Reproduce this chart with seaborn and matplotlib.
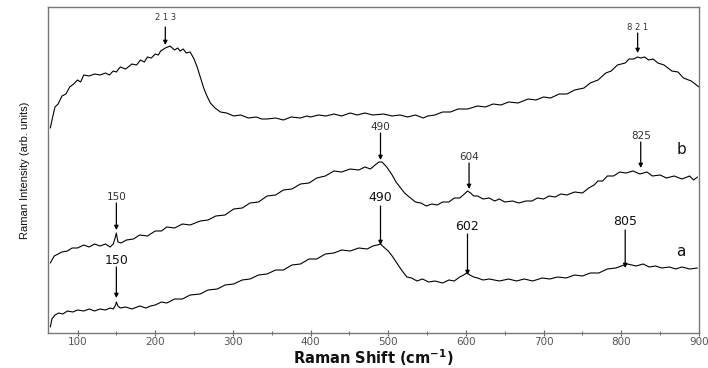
import matplotlib
matplotlib.use("Agg")
import matplotlib.pyplot as plt
import pandas as pd
import seaborn as sns
from matplotlib.ticker import MultipleLocator

# Raman spectra (offset stacked, arbitrary units)
shift_c = [65, 68, 71, 75, 80, 85, 90, 95, 100, 104, 108, 115, 122, 129, 136, 141, 146, 150,
           155, 162, 170, 176, 181, 186, 190, 195, 200, 204, 207, 213, 219, 225, 229, 232, 236,
           240, 245, 250, 254, 258, 262, 266, 271, 277, 284, 292, 301, 310, 320, 330, 337, 344,
           355, 365, 375, 387, 395, 400, 410, 420, 430, 440, 451, 460, 470, 480, 494, 505, 515,
           525, 535, 545, 551, 560, 570, 580, 590, 602, 615, 625, 635, 645, 655, 667, 680, 690,
           700, 709, 720, 730, 740, 752, 760, 770, 780, 787, 795, 805, 810, 816, 821, 825, 830,
           835, 841, 847, 855, 865, 873, 880, 890, 900]
int_c = [205, 216, 226, 229, 237, 239, 246, 249, 253, 251, 258, 257, 259, 258, 260, 258, 262, 261,
         266, 264, 269, 268, 273, 271, 276, 275, 279, 278, 282, 285, 287, 283, 285, 282, 284,
         280, 281, 274, 266, 256, 246, 238, 230, 225, 221, 220, 217, 218, 215, 216, 214, 214,
         215, 213, 216, 215, 217, 216, 218, 217, 219, 217, 220, 218, 220, 218, 219, 217, 218,
         216, 218, 215, 217, 218, 221, 221, 224, 224, 227, 226, 229, 228, 231, 230, 234, 233,
         236, 235, 239, 239, 243, 245, 250, 253, 260, 262, 268, 270, 274, 274, 276, 275, 276,
         273, 274, 270, 268, 262, 261, 255, 252, 246]

shift_b = [65, 70, 75, 80, 87, 93, 100, 108, 115, 122, 129, 136, 142, 146, 148, 150, 152, 156,
           163, 172, 180, 190, 200, 208, 215, 225, 235, 245, 258, 268, 278, 290, 301, 312, 322,
           333, 344, 355, 365, 376, 387, 398, 408, 419, 430, 440, 451, 462, 470, 477, 483, 488,
           492, 498, 505, 510, 515, 521, 527, 535, 542, 549, 556, 563, 570, 578, 585, 592, 598,
           602, 606, 610, 615, 622, 630, 637, 643, 650, 660, 668, 677, 685, 692, 700, 707, 715,
           722, 730, 740, 750, 758, 765, 770, 776, 782, 790, 798, 806, 815, 824, 833, 840, 850,
           858, 868, 878, 888, 893, 898]
int_b = [70, 77, 79, 81, 82, 85, 85, 88, 86, 89, 87, 89, 86, 89, 94, 100, 91, 90,
         93, 94, 98, 97, 102, 102, 106, 105, 109, 108, 112, 113, 117, 118, 124, 125, 130,
         131, 137, 138, 143, 144, 149, 150, 155, 157, 162, 161, 164, 163, 166, 164, 168, 171,
         171, 166, 158, 151, 146, 140, 136, 131, 130, 127, 129, 128, 131, 131, 135, 135, 139,
         142, 140, 137, 137, 134, 135, 132, 134, 131, 132, 130, 132, 132, 135, 134, 137, 136,
         139, 138, 141, 140, 145, 148, 152, 152, 157, 157, 161, 160, 162, 159, 161, 157, 158,
         155, 157, 154, 157, 153, 156]

shift_a = [65, 67, 71, 76, 81, 87, 94, 100, 108, 115, 122, 129, 136, 142, 146, 149, 150, 152,
           155, 162, 170, 180, 188, 194, 200, 208, 215, 225, 235, 245, 258, 268, 280, 290, 301,
           312, 322, 333, 344, 355, 365, 376, 387, 398, 408, 419, 430, 440, 451, 462, 473, 480,
           486, 490, 494, 500, 505, 511, 517, 524, 530, 537, 544, 552, 560, 570, 578, 585, 592,
           597, 601, 605, 610, 615, 622, 630, 643, 655, 665, 675, 686, 698, 708, 718, 729, 740,
           750, 760, 771, 782, 793, 800, 808, 819, 828, 836, 844, 852, 862, 870, 878, 888, 898]
int_a = [6, 14, 18, 20, 19, 22, 21, 23, 22, 24, 22, 24, 23, 25, 24, 28, 31, 27,
         25, 26, 24, 27, 25, 27, 28, 31, 30, 34, 34, 38, 39, 43, 44, 48, 49,
         53, 54, 58, 59, 63, 63, 68, 69, 74, 74, 79, 80, 83, 82, 85, 84, 87,
         88, 89, 86, 82, 77, 70, 63, 56, 55, 52, 54, 51, 52, 50, 53, 52, 56,
         58, 60, 58, 56, 55, 53, 54, 52, 54, 52, 54, 52, 55, 54, 56, 55, 58,
         57, 60, 60, 64, 65, 67, 69, 67, 69, 66, 67, 65, 66, 64, 66, 64, 65]

# Peak labels: (text, position, text height, arrow start, arrow tip, style)
peaks = [
    ("2 1 3", 213, 315, 306, 288, "c"),
    ("8 2 1", 821, 305, 300, 280, "c"),
    ("490", 490, 206, 200, 173, "b"),
    ("604", 604, 176, 170, 144, "b"),
    ("825", 825, 197, 191, 165, "b"),
    ("150", 150, 136, 130, 103, "b"),
    ("490", 490, 135, 127, 88, "a"),
    ("602", 602, 106, 99, 58, "a"),
    ("805", 805, 111, 103, 65, "a"),
    ("150", 150, 73, 66, 35, "a"),
]
curve_letters = [("b", 877, 183), ("a", 876, 82)]

frames = []
for name, xs, ys in (("a", shift_a, int_a), ("b", shift_b, int_b), ("c", shift_c, int_c)):
    frames.append(pd.DataFrame({"shift": xs, "intensity": ys, "sample": name}))
df = pd.concat(frames, ignore_index=True)

sns.set_theme(style="ticks")
plt.rcParams["font.family"] = ["DejaVu Sans"]

fig = plt.figure(figsize=(7.08, 3.68), dpi=100)
ax = fig.add_axes([48 / 708, 35 / 368, 651 / 708, 326 / 368])

sns.lineplot(data=df, x="shift", y="intensity", hue="sample", units="sample",
             estimator=None, sort=False, palette={"a": "black", "b": "black", "c": "black"},
             linewidth=0.8, legend=False, ax=ax)

ax.set_xlim(62, 900)
ax.set_ylim(0, 326)

label_style = {
    "c": dict(fontsize=6, color="#333333"),
    "b": dict(fontsize=7.5, color="#333333"),
    "a": dict(fontsize=9, color="#111111"),
}
for text, pos, ty, y0, y1, st in peaks:
    ax.text(pos, ty, text, ha="center", va="center", **label_style[st])
    ax.annotate("", xy=(pos, y1), xytext=(pos, y0),
                arrowprops=dict(arrowstyle="-|>", color="black", lw=0.9,
                                mutation_scale=6, shrinkA=0, shrinkB=0))
for letter, lx, ly in curve_letters:
    ax.text(lx, ly, letter, ha="center", va="center", fontsize=11, color="#111111")

ax.xaxis.set_major_locator(MultipleLocator(100))
ax.xaxis.set_minor_locator(MultipleLocator(50))
ax.tick_params(axis="x", which="major", direction="inout", length=4, width=0.8,
               colors="#666666", labelsize=7.5, labelcolor="#555555", pad=1)
ax.tick_params(axis="x", which="minor", direction="inout", length=3, width=0.7, colors="#666666")
ax.set_yticks([])

for side in ("left", "right", "top", "bottom"):
    ax.spines[side].set_visible(True)
    ax.spines[side].set_color("#777777")
    ax.spines[side].set_linewidth(1.0)

ax.set_xlabel("Raman Shift (cm$^{\\mathbf{-1}}$)", fontsize=10.5, fontweight="bold",
              color="#111111")
ax.xaxis.set_label_coords(0.5, -0.044)
ax.set_ylabel("Raman Intensity (arb. units)", fontsize=8,
              family=["Liberation Sans", "DejaVu Sans"], color="#111111", labelpad=13)

fig.savefig("out.png", dpi=100)
